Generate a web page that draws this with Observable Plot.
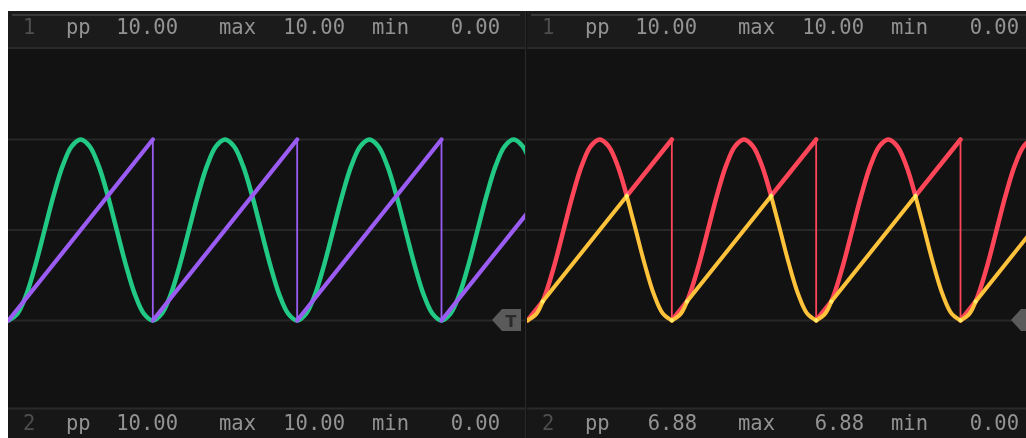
<!DOCTYPE html>
<html><head><meta charset="utf-8">
<script src="https://cdn.jsdelivr.net/npm/d3@7"></script>
<script src="https://cdn.jsdelivr.net/npm/@observablehq/plot@0.6"></script>
<style>
html,body{margin:0;padding:0;background:#fff;width:1026px;height:438px;overflow:hidden}
#scope{position:absolute;left:8px;top:11px;width:1018px;height:427px;background:#121212;overflow:hidden}
.panel{position:absolute;top:0;width:517px;height:427px}
.panel svg{position:absolute;left:0;top:0}
#divider{position:absolute;left:517px;top:0;width:1px;height:427px;background:#2a2a2a}
</style></head><body><div id="scope"><div id="left" class="panel" style="left:0"></div><div id="divider"></div><div id="right" class="panel" style="left:519px"></div></div>
<script>
// ---- data ----
const channelIds = ["1", "2"];
const statNames = ["pp", "max", "min"];
const leftTopStats = ["10.00", "10.00", "0.00"];
const leftBottomStats = ["10.00", "10.00", "0.00"];
const rightTopStats = ["10.00", "10.00", "0.00"];
const rightBottomStats = ["6.88", "6.88", "0.00"];
const gridLevels = [0, 5, 10];
const periods = [0, 1, 2, 3];
const spanPeriods = 3.582;
// one period of the green (raised-cosine) trace, read at 1/16-period steps
const greenPhase = [0, .0625, .125, .1875, .25, .3125, .375, .4375, .5, .5625, .625, .6875, .75, .8125, .875, .9375];
const greenValue = [0, .38, 1.46, 3.09, 5, 6.91, 8.54, 9.62, 10, 9.62, 8.54, 6.91, 5, 3.09, 1.46, .38];
// purple sawtooth ramp per period
const sawPhase = [0, 1];
const sawValue = [0, 10];
// red trace pieces per period
const redPhase = [[0, .105], [.105, .125, .1875, .25, .3125, .375, .4375, .5, .5625, .625, .688], [.688, 1]];
const redValue = [[0, 1.05], [1.05, 1.46, 3.09, 5, 6.91, 8.54, 9.62, 10, 9.62, 8.54, 6.88], [6.88, 10]];
// yellow trace pieces per period
const yellowPhase = [[0, .0625, .105], [.105, .688], [.688, .75, .8125, .875, .9375, 1]];
const yellowValue = [[0, .38, 1.05], [1.05, 6.88], [6.88, 5, 3.09, 1.46, .38, 0]];

// ---- tables ----
const greenTable = periods.flatMap(p => greenPhase.map((ph, i) => ({t: p + ph, v: greenValue[i]})));
const sawRamps = periods.map(p => ({t0: p + sawPhase[0], t1: p + sawPhase[1], v0: sawValue[0], v1: sawValue[1]}));
const drops = periods.map(p => p + 1);
const pieces = (ph, va) => periods.flatMap(p => ph.flatMap((arr, j) => arr.map((x, i) => ({t: p + x, v: va[j][i], z: p + "-" + j}))));
const redTable = pieces(redPhase, redValue);
const yellowTable = pieces(yellowPhase, yellowValue);

const W = 517, H = 427;
function basePlot(marks) {
  return Plot.plot({
    width: W, height: H, marginTop: 37.5, marginBottom: 27.5, marginLeft: 0, marginRight: 0,
    x: {domain: [0, spanPeriods], axis: null},
    y: {domain: [-5, 15], axis: null},
    style: {background: "transparent", overflow: "visible"},
    marks: [Plot.ruleY(gridLevels, {stroke: "#272727", strokeWidth: 2}), ...marks]
  });
}
function addTrigger(chart, withLabel) {
  const y0 = chart.scale("y").apply(0);
  const s = d3.select(chart);
  s.append("path").attr("d", `M484,${y0} L494,${y0 - 11} L513,${y0 - 11} L513,${y0 + 11} L494,${y0 + 11} Z`).attr("fill", "#5a5a5a");
  if (withLabel) s.append("text").attr("x", 503).attr("y", y0 + 6.5).attr("text-anchor", "middle")
    .attr("font-family", "DejaVu Sans").attr("font-weight", "bold").attr("font-size", 16).attr("fill", "#2b2b2b").text("T");
}
function addFrame(el, topStats, bottomStats) {
  const svg = d3.select(el).append("svg").attr("width", W).attr("height", H).style("pointer-events", "none");
  svg.append("rect").attr("x", 0).attr("y", 0).attr("width", W).attr("height", 37).attr("fill", "#1b1b1b");
  svg.append("rect").attr("x", 4).attr("y", 3).attr("width", 508).attr("height", 2).attr("fill", "#3a3a3a");
  svg.append("rect").attr("x", 0).attr("y", 36).attr("width", W).attr("height", 2).attr("fill", "#2a2a2a");
  svg.append("rect").attr("x", 0).attr("y", 397).attr("width", W).attr("height", 30).attr("fill", "#171717");
  svg.append("rect").attr("x", 0).attr("y", 396.5).attr("width", W).attr("height", 2).attr("fill", "#2a2a2a");
  const labelX = [58, 211, 364], valueR = [170, 337, 492];
  [[topStats, 23, 0], [bottomStats, 418.5, 1]].forEach(([stats, by, ci]) => {
    const g = svg.append("g").attr("font-family", "DejaVu Sans Mono").attr("font-size", 20.5);
    g.append("text").attr("x", 15).attr("y", by).attr("fill", "#4e4e4e").text(channelIds[ci]);
    statNames.forEach((n, i) => {
      g.append("text").attr("x", labelX[i]).attr("y", by).attr("fill", "#939393").text(n);
      g.append("text").attr("x", valueR[i]).attr("y", by).attr("text-anchor", "end").attr("fill", "#939393").text(stats[i]);
    });
  });
}

const common = {strokeLinejoin: "round", strokeLinecap: "round", clip: true, mixBlendMode: "screen"};
const leftChart = basePlot([
  Plot.line(greenTable, {x: "t", y: "v", stroke: "#22c985", strokeWidth: 4.5, curve: "catmull-rom", ...common}),
  Plot.link(sawRamps, {x1: "t0", y1: "v0", x2: "t1", y2: "v1", stroke: "#9b5cf3", strokeWidth: 4.2, ...common}),
  Plot.ruleX(drops, {x: d => d, y1: 0, y2: 10, stroke: "#9b5cf3", strokeWidth: 1.8, clip: true})
]);
addTrigger(leftChart, true);
document.getElementById("left").appendChild(leftChart);
addFrame(document.getElementById("left"), leftTopStats, leftBottomStats);

const rightChart = basePlot([
  Plot.line(redTable, {x: "t", y: "v", z: "z", stroke: "#ff4659", strokeWidth: 4.5, curve: "catmull-rom", ...common}),
  Plot.ruleX(drops, {x: d => d, y1: 0, y2: 10, stroke: "#ff4659", strokeWidth: 1.8, clip: true}),
  Plot.line(yellowTable, {x: "t", y: "v", z: "z", stroke: "#ffc23b", strokeWidth: 4, curve: "catmull-rom", ...common})
]);
addTrigger(rightChart, false);
document.getElementById("right").appendChild(rightChart);
addFrame(document.getElementById("right"), rightTopStats, rightBottomStats);
</script></body></html>
